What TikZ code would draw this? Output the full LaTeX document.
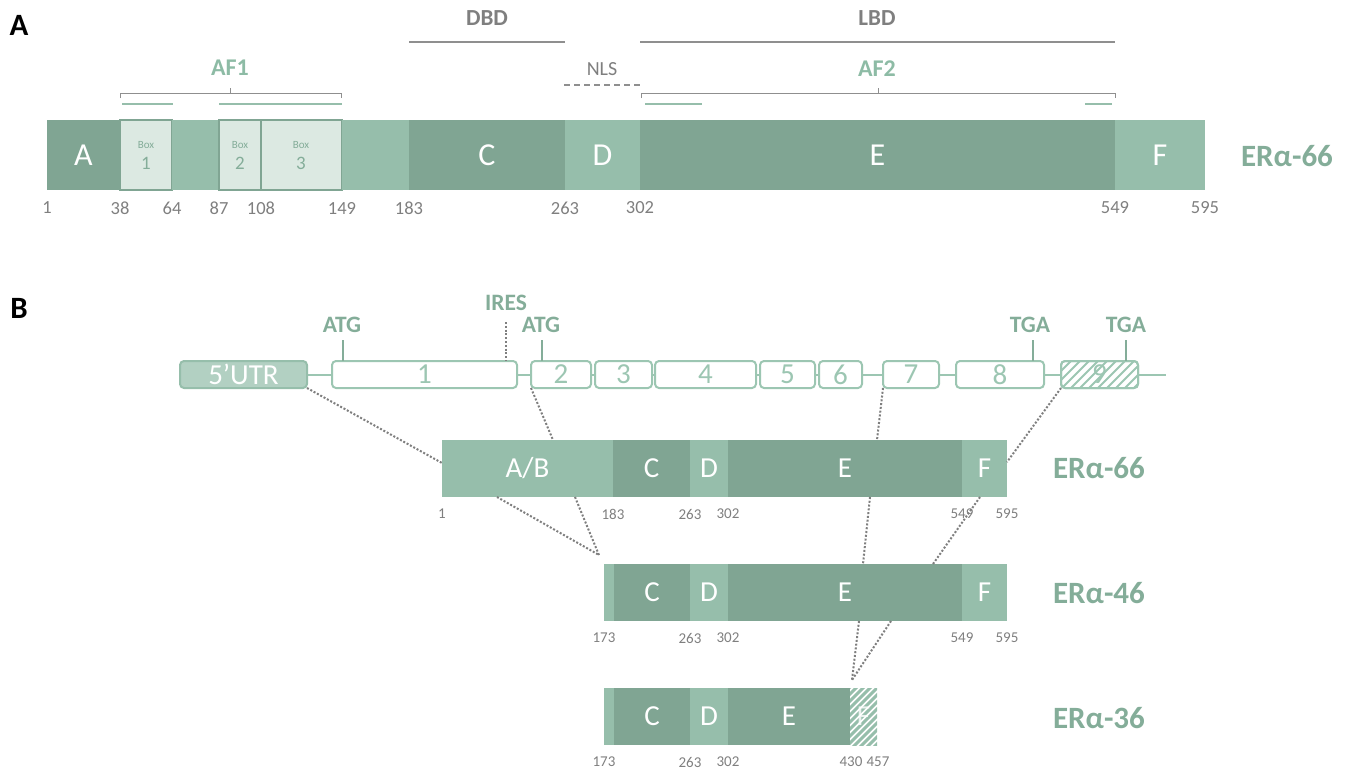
\documentclass[tikz,border=0pt]{standalone}
\usepackage{fontspec}
\setmainfont{Carlito}
\definecolor{dk}{HTML}{80A593}
\definecolor{lt}{HTML}{96BEAB}
\definecolor{bx}{HTML}{DCE9E2}
\definecolor{ex}{HTML}{9CC6B2}
\definecolor{utr}{HTML}{B2D0C2}
\definecolor{gtxt}{HTML}{7F7F7F}
\definecolor{gline}{HTML}{8F8F8F}
\definecolor{gr}{HTML}{84AD99}
\definecolor{af}{HTML}{8DBBA5}
\newcommand\segnode[8]{\node[#1, fill=#7, minimum width={#4-#3}, minimum height={#6-#5}] (#2) at (#3,#5) {#8};}
\begin{document}
\begin{tikzpicture}[x=1pt,y=-1pt]
\tikzset{
 seg/.style={inner sep=0pt, outer sep=0pt, anchor=north west, text=white},
 segA/.style={seg, font=\fontsize{32}{32}\selectfont},
 segB/.style={seg, font=\fontsize{29}{29}\selectfont},
 boxA/.style={seg, draw=dk, line width=1.5pt, text=gr},
 exon/.style={inner sep=0pt, outer sep=0pt, anchor=north west, draw=ex, line width=2pt, fill=white, rounded corners=4pt, text=ex, font=\fontsize{29}{29}\selectfont, minimum height=27},
 num/.style={text=gtxt, font=\fontsize{18.5}{18.5}\selectfont},
 numB/.style={text=gtxt, font=\fontsize{15}{15}\selectfont},
 dom/.style={text=gtxt, font=\bfseries\fontsize{23}{23}\selectfont},
 nls/.style={text=gtxt, font=\fontsize{20}{20}\selectfont},
 afl/.style={text=af, font=\bfseries\fontsize{24}{24}\selectfont},
 codon/.style={text=gr, font=\bfseries\fontsize{23.5}{23.5}\selectfont},
 iso/.style={text=gr, font=\bfseries\fontsize{31}{31}\selectfont},
 panel/.style={text=black, font=\bfseries\fontsize{31}{31}\selectfont},
 conn/.style={draw=gtxt, line width=2pt, dash pattern=on 2pt off 1.8pt},
 brk/.style={draw=gline, line width=1pt},
 dline/.style={draw=gline, line width=2.5pt},
 grl/.style={draw=lt, line width=2.5pt},
 tick/.style={draw=gr, line width=2pt},
}
\useasboundingbox (0,0) rectangle (1352,771);
% ---------------- Panel A ----------------
\node[panel] (pA) at (19,25) {A};
\segnode{segA}{a1}{47}{120}{120}{190}{dk}{A}
\segnode{boxA}{bx1}{120}{172}{120}{190}{bx}{}
\segnode{seg}{a2}{172}{219}{120}{190}{lt}{}
\segnode{boxA}{bx2}{219}{261}{120}{190}{bx}{}
\segnode{boxA}{bx3}{261}{342}{120}{190}{bx}{}
\segnode{seg}{a3}{342}{409}{120}{190}{lt}{}
\segnode{segA}{aC}{409}{565}{120}{190}{dk}{C}
\segnode{segA}{aD}{565}{640}{120}{190}{lt}{D}
\segnode{segA}{aE}{640}{1115}{120}{190}{dk}{E}
\segnode{segA}{aF}{1115}{1205}{120}{190}{lt}{F}
\foreach \n/\x in {1/146,2/240,3/301}{
  \node[text=gr, font=\fontsize{11}{11}\selectfont] (boxw\n) at (\x,145) {Box};
  \node[text=gr, font=\fontsize{19}{19}\selectfont] (boxn\n) at (\x,163) {\n};
}
\foreach \t/\x in {1/47,38/120,64/172,87/219,108/261,149/342,183/409,263/565,302/640,549/1115,595/1205}{
  \node[num] (nA\t) at (\x,208) {\t};
}
\node[iso] (isoA) at (1287,156) {ERα-66};
% domains
\node[dom] (dbd) at (487,18) {DBD};
\draw[dline] (409,42) -- (565,42);
\node[dom] (lbd) at (877,18) {LBD};
\draw[dline] (640,42) -- (1115,42);
\node[nls] (nls) at (602,69) {NLS};
\draw[draw=gline, line width=1.5pt, dash pattern=on 6pt off 4pt] (564,85) -- (640,85);
\node[afl] (af1) at (230,68) {AF1};
\draw[brk] (120,98) -- (120,93) -- (341,93) -- (341,98);
\draw[brk] (230,93) -- (230,88);
\node[afl] (af2) at (877,69) {AF2};
\draw[brk] (641,98) -- (641,93) -- (1115,93) -- (1115,98);
\draw[brk] (878,93) -- (878,88);
\draw[grl] (122,104) -- (173,104);
\draw[grl] (219,104) -- (342,104);
\draw[grl] (645,104) -- (702,104);
\draw[grl] (1085,104) -- (1112,104);
% ---------------- Panel B ----------------
\node[panel] (pB) at (19,308) {B};
\draw[draw=ex, line width=2pt] (307,375) -- (1166,375);
\node[exon, fill=utr, draw=lt, text=white, minimum width=127] (utr) at (180,361) {5’UTR};
\foreach \n/\a/\b in {1/332/517,2/531/591,3/595/652,4/655/756,5/760/815,6/819/862,7/883/939,8/956/1044}{
  \node[exon, minimum width={\b-\a}] (e\n) at (\a,361) {\n};
}
\node[exon, minimum width=77] (e9) at (1061,361) {9};
\begin{scope}
  \clip[rounded corners=4pt] (1061,361) rectangle (1138,388);
  \foreach \i in {-30,-21,...,90}{
    \draw[draw=ex, line width=1.8pt] (1061+\i,392) -- ++(34,-34);
  }
\end{scope}
\draw[draw=ex, line width=2pt, rounded corners=4pt] (1061,361) rectangle (1138,388);
% codons
\node[codon] (atg1) at (342,325) {ATG};
\draw[tick] (343,340) -- (343,361);
\node[codon] (atg2) at (541,325) {ATG};
\draw[tick] (542,340) -- (542,361);
\node[codon] (tga1) at (1030,325) {TGA};
\draw[tick] (1033,340) -- (1033,361);
\node[codon] (tga2) at (1126,325) {TGA};
\draw[tick] (1126,340) -- (1126,361);
\node[codon] (ires) at (506,303) {IRES};
\draw[conn] (506,322) -- (506,361);
% ER66
\segnode{segB}{bAB}{442}{613}{440}{497}{lt}{A/B}
\segnode{segB}{bC}{613}{690}{440}{497}{dk}{C}
\segnode{segB}{bD}{690}{728}{440}{497}{lt}{D}
\segnode{segB}{bE}{728}{962}{440}{497}{dk}{E}
\segnode{segB}{bF}{962}{1007}{440}{497}{lt}{F}
\foreach \t/\x in {1/442,183/613,263/690,302/728,549/962,595/1007}{
  \node[numB] (n66\t) at (\x,514) {\t};
}
\node[iso] (iso66) at (1099,468) {ERα-66};
% ER46
\segnode{seg}{cL}{604}{614}{564}{621}{lt}{}
\segnode{segB}{cC}{614}{690}{564}{621}{dk}{C}
\segnode{segB}{cD}{690}{728}{564}{621}{lt}{D}
\segnode{segB}{cE}{728}{962}{564}{621}{dk}{E}
\segnode{segB}{cF}{962}{1007}{564}{621}{lt}{F}
\foreach \t/\x in {173/604,263/690,302/728,549/962,595/1007}{
  \node[numB] (n46\t) at (\x,638) {\t};
}
\node[iso] (iso46) at (1099,593) {ERα-46};
% ER36
\segnode{seg}{dL}{604}{614}{688}{745}{lt}{}
\segnode{segB}{dC}{614}{690}{688}{745}{dk}{C}
\segnode{segB}{dD}{690}{728}{688}{745}{lt}{D}
\segnode{segB}{dE}{728}{850}{688}{745}{dk}{E}
\segnode{seg}{dF}{850}{877}{688}{745}{white}{}
\begin{scope}
  \clip (850,688) rectangle (877,745);
  \foreach \i in {-70,-63,...,40}{
    \draw[draw=lt, line width=3pt] (850+\i,750) -- ++(70,-70);
  }
\end{scope}
\node[text=white, opacity=0.8, font=\fontsize{29}{29}\selectfont] (dFl) at (dF.center) {F};
\foreach \t/\x in {173/604,263/690,302/728,430/851,457/878}{
  \node[numB] (n36\t) at (\x,762) {\t};
}
\node[iso] (iso36) at (1099,718) {ERα-36};
% connectors
\coordinate (k1) at (442,463);
\coordinate (k2) at (553,440);
\coordinate (k3) at (877,440);
\coordinate (k4) at (1007,462);
\coordinate (s1) at (497,497);
\coordinate (s2) at (575,497);
\coordinate (m1) at (599,555);
\coordinate (s3) at (870,497);
\coordinate (t3) at (863,564);
\coordinate (s4) at (980,497);
\coordinate (t4) at (933,564);
\coordinate (u1) at (859,621);
\coordinate (u2) at (891,621);
\coordinate (m2) at (852,680);
\draw[conn] (utr.south east) -- (k1);
\draw[conn] (e2.south west) -- (k2);
\draw[conn] (e7.south west) -- (k3);
\draw[conn] (e9.south west) -- (k4);
\draw[conn] (s1) -- (m1);
\draw[conn] (s2) -- (m1);
\draw[conn] (s3) -- (t3);
\draw[conn] (s4) -- (t4);
\draw[conn] (u1) -- (m2);
\draw[conn] (u2) -- (m2);
\end{tikzpicture}
\end{document}
